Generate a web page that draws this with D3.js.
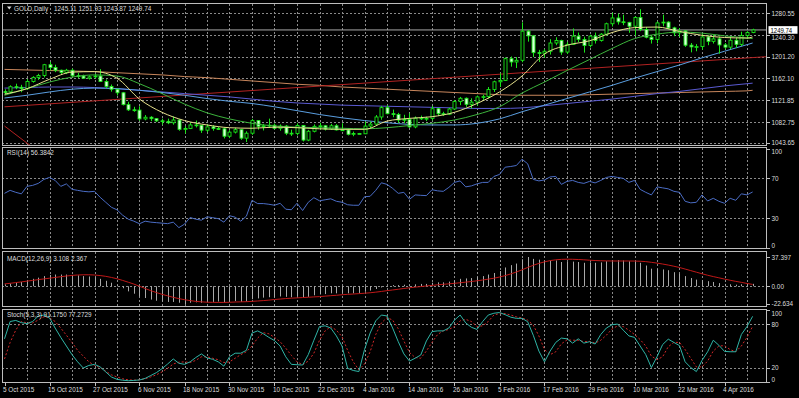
<!DOCTYPE html>
<html><head><meta charset="utf-8">
<script src="https://cdn.jsdelivr.net/npm/d3@7"></script>
<style>html,body{margin:0;padding:0;background:#000;}svg{display:block;}</style>
</head><body>
<script>
// ---------------- DATA ----------------
const symbolTitle = "GOLD,Daily";
const lastQuote = [1245.11, 1251.93, 1243.87, 1249.74];

const open = [1137.5,1137,1146.5,1145.5,1143,1156,1163.5,1167,1186.5,1181.5,
1176.5,1172.5,1176.5,1166.5,1166,1162,1164.5,1166,1156,1147,
1142,1135.5,1114,1104.5,1104,1088,1091,1088.5,1084.5,1083.5,
1081,1086,1069,1070.5,1077,1076.5,1067.5,1073.5,1070.5,1070,
1056.5,1064,1068.5,1053,1062,1085,1074.5,1075.5,1076.5,1071,
1075,1062,1061.5,1076,1049.5,1065.5,1074.5,1075.5,1069.5,1075.5,
1068,1068,1060,1061.5,1061,1075,1078.5,1091.5,1108.5,1097.5,
1096,1086,1087,1073.5,1089.5,1088.5,1089,1106.5,1097.5,1096.5,
1106,1119.5,1125.5,1114.5,1118.5,1128,1128.5,1141.5,1155.5,1158,
1197.5,1191.5,1194.5,1247.5,1239,1208.5,1207.5,1211,1226,1230.5,
1209.5,1223.5,1238.5,1232.5,1221.5,1238.5,1230.5,1242,1261,1271.5,
1264.5,1263.5,1256.5,1272.5,1250.5,1236.5,1232.5,1262.5,1264,1253.5,
1244.5,1248,1222,1219,1219.5,1237,1229,1233.5,1222.5,1218.5,
1231,1223.5,1239.5,1245.11];
const high = [1142,1149,1152,1150,1160.5,1165.5,1170,1188,1191.5,1186.5,
1177.5,1179,1179.5,1171.5,1168.5,1167,1170,1178.5,1160,1150.5,
1142.5,1137,1119,1110,1111,1095,1093,1089.5,1088.5,1088.5,
1092.5,1087.5,1075,1081,1085,1077,1078.5,1076.5,1074,1072,
1067.5,1072,1069,1065.5,1088,1085.5,1079,1088.5,1079.5,1078,
1077,1068.5,1080,1077,1068,1078,1081,1077,1079,1078.5,
1080,1071,1065,1062.5,1083,1083,1095,1111.5,1113,1105,
1099,1095.5,1098,1092.5,1094,1092,1111.5,1108,1101,1108,
1122.5,1128,1127,1125.5,1130.5,1132,1146,1157.5,1171,1200,
1201.5,1200.5,1263.5,1249.5,1240,1213.5,1215,1233,1236.5,1232,
1228,1252.5,1245,1237.5,1241,1245,1244,1263,1281,1279.5,
1277.5,1264.5,1274.5,1287.5,1255,1239.5,1265,1277.5,1265.5,1255.5,
1253,1249,1226,1224,1243,1240,1241.5,1237.5,1226,1237.5,
1236,1246.5,1247.5,1251.93];
const low = [1132,1134.5,1142,1136.5,1141,1154,1159,1163.5,1176,1173,
1168.5,1169.5,1165,1162,1160.5,1159.5,1161.5,1155,1143.5,1137.5,
1130.5,1112.5,1102.5,1101,1084.5,1085.5,1084,1082.5,1077.5,1078.5,
1077.5,1066.5,1061.5,1069.5,1072.5,1062.5,1064,1066.5,1068.5,1052.5,
1053,1061.5,1050,1046,1059,1068.5,1067,1071.5,1069,1066.5,
1058.5,1057,1058,1047,1047.5,1063.5,1068,1067,1068,1067,
1067,1058,1056.5,1060.5,1060.5,1071.5,1077,1086.5,1096.5,1091,
1080.5,1080,1071.5,1071,1086,1084,1085,1093.5,1093.5,1095,
1104,1113,1110,1107,1112,1122,1125,1137,1146,1157,
1183,1180.5,1191,1228.5,1200.5,1191.5,1199.5,1205,1222,1204.5,
1206,1222.5,1227.5,1208.5,1218,1225,1228.5,1239,1256,1259.5,
1258.5,1244.5,1239,1247.5,1234.5,1225,1225.5,1256.5,1250.5,1238.5,
1237,1219,1209,1211,1214,1222,1225,1206.5,1214.5,1215,
1217.5,1220.5,1233,1243.87];
const close = [1137,1146.5,1145.5,1143,1156,1163.5,1167,1186.5,1181.5,1176.5,
1172.5,1176.5,1166.5,1166,1162,1164.5,1166,1156,1147,1142,
1135.5,1114,1104.5,1104,1088,1091,1088.5,1084.5,1083.5,1081,
1086,1069,1070.5,1077,1076.5,1067.5,1073.5,1070.5,1070,1056.5,
1064,1068.5,1053,1062,1085,1074.5,1075.5,1076.5,1071,1075,
1062,1061.5,1076,1049.5,1065.5,1074.5,1075.5,1069.5,1075.5,1068,
1068,1060,1061.5,1061,1075,1078.5,1091.5,1108.5,1097.5,1096,
1086,1087,1073.5,1089.5,1088.5,1089,1106.5,1097.5,1096.5,1106,
1119.5,1125.5,1114.5,1118.5,1128,1128.5,1141.5,1155.5,1158,1197.5,
1191.5,1194.5,1247.5,1239,1208.5,1207.5,1211,1226,1230.5,1209.5,
1223.5,1238.5,1232.5,1221.5,1238.5,1230.5,1242,1261,1271.5,1264.5,
1263.5,1256.5,1272.5,1250.5,1236.5,1232.5,1262.5,1264,1253.5,1244.5,
1248,1222,1219,1219.5,1237,1229,1233.5,1222.5,1218.5,1231,
1223.5,1239.5,1245,1249.74];

// moving averages, read at every 4th bar
const maBars = [0,4,8,12,16,20,24,28,32,36,40,44,48,52,56,60,64,68,72,76,80,84,88,92,96,100,104,108,112,116,120,124,128,132,133];
const maYellow = [1133,1143,1160,1173,1174,1162,1124,1100,1085,1077,1072,1071,1073,1072,1070,1069,1069,1084,1089,1092,1100,1116,1137,1166,1206,1222,1230,1245,1254,1255,1247,1240,1236,1235,1237];
const maGreen = [1131,1143,1155,1164,1168,1166,1152,1134,1115,1099,1088,1080,1075,1073,1072,1071,1070,1072,1076,1080,1086,1096,1110,1135,1155,1176,1196,1216,1234,1242,1246,1244,1239,1235,1234];
const maSteel = [1126,1131,1137,1142,1144,1143,1140,1136,1131,1125,1120,1116,1110,1103,1096,1090,1085,1081,1078,1077,1077,1080,1088,1101,1113,1125,1137,1149,1162,1174,1186,1199,1211,1223,1226];
const maSlate = [1144,1145,1146,1146,1145,1143,1140,1137,1134,1131,1128,1124,1120,1117,1115,1113,1112,1111,1110,1109,1108,1107,1107,1108,1112,1116,1120,1124,1129,1134,1138,1143,1148,1152,1153];
const maBrown = [1178,1177,1176,1175,1174,1172,1170,1168,1165,1163,1160,1157,1154,1151,1149,1146,1144,1142,1140,1138,1136,1134,1132,1131,1131,1131,1132,1133,1134,1135,1136,1137,1138,1139,1140];
const redTrend = [[0,1110],[136,1201.5]];
const redFall = [[0,1075],[4,1044],[7,1022]];

const priceTicks = [1280.55,1240.30,1201.20,1162.10,1121.85,1082.75,1043.65];

const rsi = [55,58,56,54.5,62,63,65,69,71,68,
62,64.5,59,58,57,56.5,57,51,46,41,
38.4,33,29,27,24.4,27,26,25.5,25,24.5,
26,20.5,24,30.7,29,28,31.4,30.5,29.5,26,
32.5,31,27,32,48,44.7,44.7,44,43,45,
39,38.5,45,37.7,46,50.6,47.5,48.5,49.5,47,
46,43.5,43,43,51.6,52,58,65.6,64,60,
55,56,49,53.4,53,52.7,58.6,57.5,57,61,
66,67.5,61.5,62.5,64.5,66,66,72,74,81.3,
82,83,89.3,84.8,69,67.5,68.5,71.5,72,64,
67,68,66,65,67,65.5,68,71,72,71,
70,66,68,59,56,53.4,61.5,60.5,59.5,57,
56,47,45.4,46,53.4,47.3,50,47,45,50,
48,54.5,53.4,56.3842];
const rsiTicks = [100,70,30,0];

const macdMain = [2.5,3.5,4.5,5.5,7.5,9.5,11,13,14.5,15,
15,15,14.5,14,13,12.5,11.5,9.5,7,4.5,
1.5,-2.5,-6.5,-9.5,-13,-15,-17,-18.5,-19.5,-20,
-20,-21,-22.634,-21,-20.5,-21,-20.5,-20,-19.5,-20.5,
-20,-19,-20,-19.5,-16.5,-15.5,-14.5,-14,-14,-13,
-13.5,-14,-12.5,-14.5,-13.5,-11.5,-10.5,-10,-9,-9,
-8.5,-9,-9,-8.5,-7,-5.5,-3.5,-1.5,0.5,1.5,
1.5,2,1.5,2.5,3,3,4.5,5,5,6,
7.5,9.5,10,10.5,12,13,15,17,19.5,24,
27,29,34.5,37.397,35,34,33,33,33,31,
31,31.5,31,30,30.5,30,30.5,32,33.5,33.5,
33,32,32,30,26.5,22.5,22,21.5,20.5,18,
16,13,10.5,8.5,8,6.5,5.5,4,3,2.5,
2,2.5,3,3.108];
const macdSignal = [3,3.8,4.7,5.6,6.6,7.5,8.5,9.4,10.3,11.3,
12.2,13.1,13.9,14.4,14.7,14.7,14.4,13.7,12.7,11.3,
9.6,7.5,5.2,2.8,0,-2.8,-5.6,-8,-10.3,-12.2,
-14.1,-15.8,-17.1,-18.3,-19.3,-19.9,-20.3,-20.5,-20.6,-20.6,
-20.4,-20.1,-19.9,-19.7,-19.3,-18.8,-18.3,-17.7,-16.9,-16.3,
-15.7,-15.2,-14.8,-14.4,-14,-13.6,-13.2,-12.6,-12,-11.5,
-10.8,-10.3,-9.9,-9.4,-8.9,-8.3,-7.5,-6.6,-5.6,-4.7,
-3.8,-2.8,-1.9,-1.1,-0.4,0.4,1.1,1.9,2.5,3.1,
3.8,4.5,5.3,6.1,7,8,9.1,10.3,11.8,13.6,
15.8,18.2,21,24,26.8,29.2,31.2,32.8,33.8,34.4,
34.6,34.5,34.2,33.8,33.3,32.9,32.6,32.4,32.3,32.3,
32.3,32.3,32.2,32,31.5,30.6,29.6,28.4,27.1,25.6,
24,22,20,18,16,14.1,12.4,10.8,9.2,7.7,
6.3,5,3.6,2.367];
const macdTicks = [37.397,0,-22.634];
const macdTickLabels = ["37.397","0.00","-22.634"];

const stochMain = [60,84,85.5,82.5,81,84,91.5,93,89,75,
62,50,38,28,19.5,23,24.5,21,14,7,
3.7,2.5,1.8,2.2,2.8,5,9,13,18.5,25,
32,26,24.5,28,34,39,33.5,31.5,28,22,
35,40,40,44,68,71,67,62,57.5,50,
35,24.5,24,23.6,38,58,77,78,75,64,
50,19,16,14.5,45,68,85,93,91.7,75,
56,39,29,33,37.5,57,70,71,71,75,
86,93,82,76,73,84,93,95.5,96.5,93.5,
90,88.4,88.4,83.8,65,43,28,43,55,61,
60,54,60,54,56,52.8,66,75,79.5,80.5,
72,64,62,50,38,20,35,52,59.5,55,
50.5,28,20,14.5,30,42,58,51,42.5,42,
42,66,77,91.175];
const stochSignal = [32,55,72,84,82,82,86,90.5,89,84,
75,65,55,44,36,28,23,20,15,10,
7,4.5,3,2.5,3,4.5,7,10,14,19,
25,27.5,28,27,30,35,35,33,31,27,
28,33,38,42,50,61,68.5,67,62,56,
47,37,28,24,29,40,58,71,77,72,
63,44,28,17,25,42,66,82,89.5,86,
74,57,41,34,33,43,55,66,71,73,
77,85,87,84,77,78,84,93,95,95,
93,90.5,89,86,79,64,45,38,42,53,
58.5,58,58,56,56.5,54,58,65,73.5,78,
77,72,66,59,50,36,31,35,49,55,
55,45,33,21,21,29,43,50,50.5,45,
42,50,62,77.2729];
const stochTicks = [100,80,20,0];

const dateTickBars = [0,8,16,24,32,40,48,56,64,72,80,88,96,104,112,120,128];
const dateTickLabels = ["5 Oct 2015","15 Oct 2015","27 Oct 2015","6 Nov 2015","18 Nov 2015","30 Nov 2015","10 Dec 2015","22 Dec 2015","4 Jan 2016","14 Jan 2016","26 Jan 2016","5 Feb 2016","17 Feb 2016","29 Feb 2016","10 Mar 2016","22 Mar 2016","4 Apr 2016"];

const rsiLabel = "RSI(14) 56.3842";
const macdLabel = "MACD(12,26,9) 3.108 2.367";
const stochLabel = "Stoch(5,3,3) 91.1750 77.2729";

// ---------------- LAYOUT ----------------
const W = 799, H = 398;
const L = 2, R = 767;
const P = {
  main: {top: 3, bottom: 145.5},
  rsi: {top: 147, bottom: 249},
  macd: {top: 251, bottom: 307},
  stoch: {top: 309, bottom: 382.5}
};
const FONT = '"Liberation Sans", Arial, sans-serif';
const TXT = '#dedede', FRAME = '#bdbdbd', GRID = '#8a8a8a';

const x = d3.scaleLinear().domain([0, close.length - 1]).range([4.5, 4.5 + 5.625 * (close.length - 1)]);
const yMain = d3.scaleLinear().domain([1043.65, 1280.55]).range([143.3, 13]);
const yRsi = d3.scaleLinear().domain([0, 100]).range([248, 148.6]);
const yMacd = d3.scaleLinear().domain([-22.634, 37.397]).range([304, 257]);
const yStoch = d3.scaleLinear().domain([0, 100]).range([382, 310]);

const svg = d3.select('body').append('svg').attr('width', W).attr('height', H)
  .style('background', '#000');

const defs = svg.append('defs');
Object.entries(P).forEach(([k, p]) => {
  defs.append('clipPath').attr('id', 'clip-' + k).append('rect')
    .attr('x', L).attr('y', p.top).attr('width', R - L).attr('height', p.bottom - p.top);
});

function txt(g, tx, ty, s, anchor, fill, size) {
  return g.append('text')
    .attr('transform', `translate(${tx},${ty}) scale(0.8,1)`)
    .attr('text-anchor', anchor || 'start')
    .attr('dominant-baseline', 'central')
    .attr('font-family', FONT).attr('font-size', size || 8)
    .attr('fill', fill || TXT).text(s);
}
const crisp = v => Math.round(v) + 0.5;

// ---------- grids ----------
const grid = svg.append('g').attr('stroke', GRID).attr('stroke-width', 1)
  .attr('stroke-dasharray', '2,2').attr('shape-rendering', 'crispEdges');
const vBars = d3.range(4, close.length, 4);
Object.values(P).forEach(p => {
  vBars.forEach(b => {
    grid.append('line').attr('x1', crisp(x(b))).attr('x2', crisp(x(b)))
      .attr('y1', p.top + 1).attr('y2', p.bottom - 1);
  });
});
priceTicks.forEach(v => grid.append('line').attr('x1', L).attr('x2', R)
  .attr('y1', crisp(yMain(v))).attr('y2', crisp(yMain(v))));
[70, 30].forEach(v => grid.append('line').attr('x1', L).attr('x2', R)
  .attr('y1', crisp(yRsi(v))).attr('y2', crisp(yRsi(v))));
grid.append('line').attr('x1', L).attr('x2', R)
  .attr('y1', crisp(yMacd(0))).attr('y2', crisp(yMacd(0)));
[80, 20].forEach(v => grid.append('line').attr('x1', L).attr('x2', R)
  .attr('y1', crisp(yStoch(v))).attr('y2', crisp(yStoch(v))));

// ---------- main panel ----------
const gMain = svg.append('g').attr('clip-path', 'url(#clip-main)');
gMain.append('line').attr('x1', L).attr('x2', R)
  .attr('y1', yMain(lastQuote[3])).attr('y2', yMain(lastQuote[3]))
  .attr('stroke', '#a8a8a8').attr('stroke-width', 1);

const maLine = d3.line().x((d, k) => x(maBars[k])).y(d => yMain(d)).curve(d3.curveMonotoneX);
const ptLine = d3.line().x(d => x(d[0])).y(d => yMain(d[1]));
gMain.append('path').attr('d', maLine(maBrown)).attr('fill', 'none').attr('stroke', '#c8865c').attr('stroke-width', 1);
gMain.append('path').attr('d', ptLine(redTrend)).attr('fill', 'none').attr('stroke', '#b22222').attr('stroke-width', 1);
gMain.append('path').attr('d', ptLine(redFall)).attr('fill', 'none').attr('stroke', '#b22222').attr('stroke-width', 1);
gMain.append('path').attr('d', maLine(maSlate)).attr('fill', 'none').attr('stroke', '#5a5ad2').attr('stroke-width', 1);
gMain.append('path').attr('d', maLine(maSteel)).attr('fill', 'none').attr('stroke', '#5a9ee0').attr('stroke-width', 1);

const cg = gMain.append('g');
close.forEach((c, i) => {
  const cx = crisp(x(i));
  const o = open[i];
  const bull = c >= o;
  cg.append('line').attr('x1', cx).attr('x2', cx)
    .attr('y1', yMain(high[i])).attr('y2', yMain(low[i]))
    .attr('stroke', '#19e619').attr('stroke-width', 1);
  const yt = yMain(Math.max(o, c)), yb = yMain(Math.min(o, c));
  cg.append('rect').attr('x', cx - 1.5).attr('width', 3)
    .attr('y', yt).attr('height', Math.max(0.8, yb - yt))
    .attr('fill', bull ? '#000' : '#d8ffd8')
    .attr('stroke', '#19e619').attr('stroke-width', 0.9);
});

gMain.append('path').attr('d', maLine(maGreen)).attr('fill', 'none').attr('stroke', '#3cb43c').attr('stroke-width', 1);
gMain.append('path').attr('d', maLine(maYellow)).attr('fill', 'none').attr('stroke', '#e6e08c').attr('stroke-width', 1);

// ---------- RSI ----------
const gRsi = svg.append('g').attr('clip-path', 'url(#clip-rsi)');
gRsi.append('path').attr('d', d3.line().x((d, i) => x(i)).y(d => yRsi(d))(rsi))
  .attr('fill', 'none').attr('stroke', '#4a6cc4').attr('stroke-width', 1);

// ---------- MACD ----------
const gMacd = svg.append('g').attr('clip-path', 'url(#clip-macd)');
macdMain.forEach((v, i) => {
  gMacd.append('line').attr('x1', crisp(x(i))).attr('x2', crisp(x(i)))
    .attr('y1', yMacd(0)).attr('y2', yMacd(v))
    .attr('stroke', '#a9a9a9').attr('stroke-width', 1);
});
gMacd.append('path').attr('d', d3.line().x((d, i) => x(i)).y(d => yMacd(d))(macdSignal))
  .attr('fill', 'none').attr('stroke', '#c01818').attr('stroke-width', 1);

// ---------- Stoch ----------
const gSt = svg.append('g').attr('clip-path', 'url(#clip-stoch)');
gSt.append('path').attr('d', d3.line().x((d, i) => x(i)).y(d => yStoch(d))(stochSignal))
  .attr('fill', 'none').attr('stroke', '#d02828').attr('stroke-width', 1).attr('stroke-dasharray', '2,2');
gSt.append('path').attr('d', d3.line().x((d, i) => x(i)).y(d => yStoch(d))(stochMain))
  .attr('fill', 'none').attr('stroke', '#2fb4a6').attr('stroke-width', 1);

// ---------- frames ----------
const fr = svg.append('g').attr('fill', 'none').attr('stroke', FRAME).attr('stroke-width', 1)
  .attr('shape-rendering', 'crispEdges');
Object.values(P).forEach(p => {
  fr.append('rect').attr('x', L + 0.5).attr('y', Math.round(p.top) + 0.5)
    .attr('width', R - L - 1).attr('height', Math.round(p.bottom - p.top) - 1);
});

// ---------- right axis labels ----------
const ax = svg.append('g');
const tagY = yMain(lastQuote[3]);
function rightLabels(p, ticks, scale, labels) {
  ticks.forEach((v, k) => {
    let yy = Math.max(p.top + 4.5, Math.min(p.bottom - 3.5, scale(v)));
    const ty = crisp(Math.max(p.top, Math.min(scale(v), p.bottom - 1)));
    ax.append('line').attr('x1', R).attr('x2', R + 3).attr('y1', ty).attr('y2', ty)
      .attr('stroke', FRAME).attr('stroke-width', 1).attr('shape-rendering', 'crispEdges');
    // a label sitting under the price tag is pushed just below it (partly hidden as in the terminal)
    if (p === P.main && Math.abs(yy - tagY) < 8) yy = tagY + 7.5;
    txt(ax, R + 4.5, yy, labels ? labels[k] : String(v));
  });
}
rightLabels(P.main, priceTicks, yMain, priceTicks.map(v => v.toFixed(2)));
rightLabels(P.rsi, rsiTicks, yRsi);
rightLabels(P.macd, macdTicks, yMacd, macdTickLabels);
rightLabels(P.stoch, stochTicks, yStoch);

// current price tag
ax.append('rect').attr('x', R + 1.5).attr('y', tagY - 3.8).attr('width', 29).attr('height', 7.6)
  .attr('fill', '#ffffff');
txt(ax, R + 3.5, tagY, lastQuote[3].toFixed(2), 'start', '#000', 7.5);

// ---------- date axis ----------
dateTickBars.forEach((b, k) => {
  ax.append('line').attr('x1', crisp(x(b))).attr('x2', crisp(x(b)))
    .attr('y1', P.stoch.bottom).attr('y2', P.stoch.bottom + 3)
    .attr('stroke', FRAME).attr('stroke-width', 1).attr('shape-rendering', 'crispEdges');
  txt(ax, x(b) - 1.5, 389.5, dateTickLabels[k]);
});

// ---------- panel titles ----------
ax.append('path').attr('d', 'M7,6.5 L11.5,6.5 L9.25,9.5 Z').attr('fill', TXT);
txt(ax, 14, 8.3, symbolTitle);
txt(ax, 54, 8.3, lastQuote.map(v => v.toFixed(2)).join(' '));
txt(ax, 7, 152.7, rsiLabel);
txt(ax, 7, 258.5, macdLabel);
txt(ax, 7, 314.5, stochLabel);
</script>
</body></html>
